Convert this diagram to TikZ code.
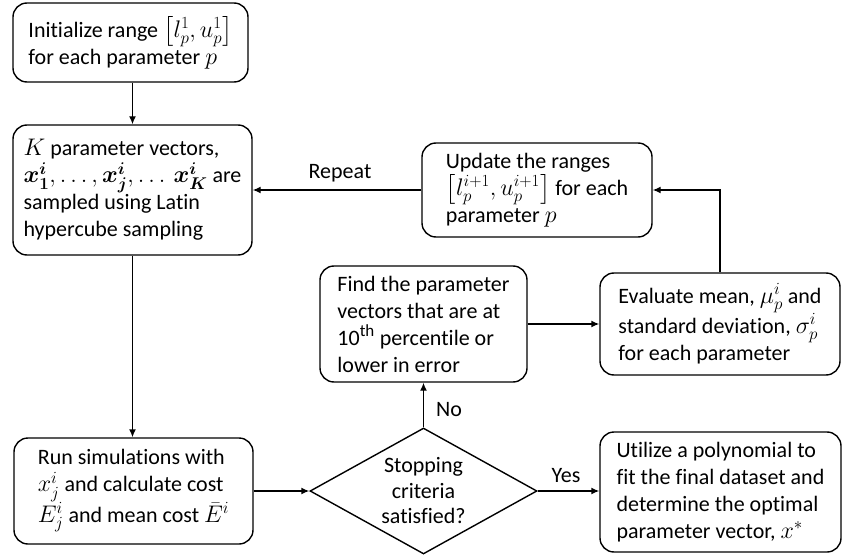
\RequirePackage{fix-cm}
\documentclass[tikz,border=0pt]{standalone}
\usepackage{amsmath,bm}
\usepackage{fontspec}
\setmainfont{Carlito}[Ligatures=NoCommon]
\DeclareMathSizes{22}{24}{17}{13}
\usetikzlibrary{arrows.meta,shapes.geometric}

\begin{document}
\begin{tikzpicture}[x=1pt,y=-1pt,line width=1.4pt,
  box/.style={draw,rounded corners=14pt,align=left,inner sep=0pt,
              font=\fontsize{22}{27}\selectfont},
  arr/.style={-{Latex[length=8pt,width=7pt]}},
  lbl/.style={font=\fontsize{22}{27}\selectfont}]
\useasboundingbox (0,0) rectangle (843,556);

\node[box,minimum width=235pt,minimum height=79pt] (init) at (130.5,42.5)
  {Initialize range $\bigl[l_p^1,u_p^1\bigr]$\\for each parameter $p$};
\node[box,minimum width=239pt,minimum height=130pt] (sample) at (132.5,190)
  {$K$ parameter vectors,\\$\bm{x_1^i}, \ldots, \bm{x_j^i}, \ldots\, \bm{x_K^i}$ are\\sampled using Latin\\hypercube sampling};
\node[box,minimum width=230pt,minimum height=94pt] (update) at (537,190)
  {Update the ranges\\$\bigl[l_p^{i+1},u_p^{i+1}\bigr]$ for each\\parameter $p$};
\node[box,minimum width=207pt,minimum height=116pt] (find) at (423.5,324)
  {Find the parameter\\vectors that are at\\10\textsuperscript{th} percentile or\\lower in error};
\node[box,minimum width=240pt,minimum height=102pt] (eval) at (720,324)
  {Evaluate mean, $\mu_p^i$ and\\standard deviation, $\sigma_p^i$\\for each parameter};
\node[box,minimum width=239pt,minimum height=106pt] (run) at (133.5,491)
  {Run simulations with\\$x_j^i$ and calculate cost\\$E_j^i$ and mean cost $\bar{E}^i$};
\node[box,minimum width=241pt,minimum height=120pt] (util) at (720.5,492)
  {Utilize a polynomial to\\fit the final dataset and\\determine the optimal\\parameter vector, $x^*$};
\node[diamond,draw,minimum width=227pt,minimum height=126pt,inner sep=0pt] (dec) at (423.5,491) {};
\node[align=center,font=\fontsize{22}{25.5}\selectfont] (dectext) at (dec) {Stopping\\criteria\\satisfied?};

\node[lbl] (rep) at (340,173) {Repeat};
\node[lbl] (no) at (449,410) {No};
\node[lbl] (yes) at (566,476) {Yes};

\draw[arr] (sample.north |- init.south) -- (sample.north);
\draw[arr] (sample.south) -- (sample.south |- run.north);
\draw[arr] (run.east) -- (dec.west);
\draw[arr] (dec.north) -- (find.south);
\draw[arr] (dec.east) -- (dec.east -| util.west);
\draw[arr] (find.east) -- (eval.west);
\draw[arr] (eval.north) |- (update.east);
\draw[arr] (update.west) -- (sample.east);
\end{tikzpicture}
\end{document}
